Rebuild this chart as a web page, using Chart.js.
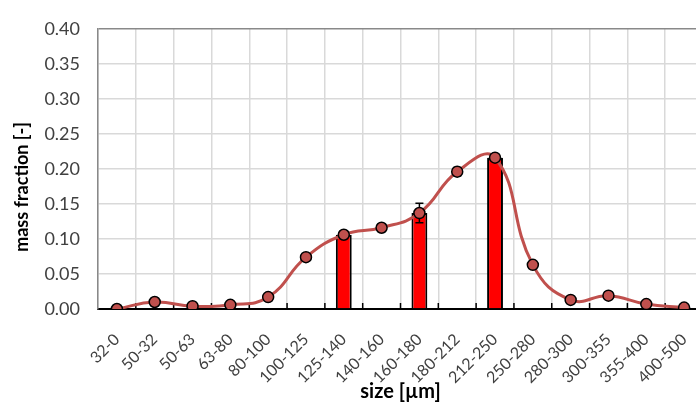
<!DOCTYPE html>
<html>
<head>
<meta charset="utf-8">
<script src="https://cdn.jsdelivr.net/npm/chart.js@4"></script>
<style>
  body { margin: 0; overflow: hidden; background: #fff; }
</style>
</head>
<body>
<canvas id="psdChart" width="710" height="407"></canvas>
<script>
// size classes (µm) and measured mass fractions
const sizeClasses = ['32-0', '50-32', '50-63', '63-80', '80-100', '100-125', '125-140', '140-160',
  '160-180', '180-212', '212-250', '250-280', '280-300', '300-355', '355-400', '400-500'];
const massFraction = [0.000, 0.010, 0.004, 0.006, 0.017, 0.074, 0.106, 0.116,
  0.137, 0.196, 0.216, 0.063, 0.013, 0.019, 0.007, 0.002];
const massError = [0, 0, 0, 0, 0, 0, 0.002, 0,
  0.014, 0.006, 0.003, 0, 0, 0, 0, 0];
// selected fractions shown as bars
const barFraction = [null, null, null, null, null, null, 0.106, null,
  0.137, null, 0.216, null, null, null, null, null];
const yTicks = { min: 0, max: 0.40, step: 0.05 };

const labelColor = '#404040';
const fontFamily = 'Lato, "Open Sans", sans-serif';

// error bars + inside tick marks, drawn after the bars but under the line
const errorBarPlugin = {
    id: 'errorBars',
    afterDatasetDraw(chart, args) {
        if (args.index !== 0) return;
        const ctx = chart.ctx;
        const xs = chart.scales.x;
        const ys = chart.scales.y;
        ctx.save();
        ctx.strokeStyle = '#000';
        ctx.lineWidth = 1.5;
        massError.forEach((err, i) => {
            if (!err) return;
            const x = xs.getPixelForValue(i);
            const top = ys.getPixelForValue(massFraction[i] + err);
            const bot = ys.getPixelForValue(massFraction[i] - err);
            ctx.beginPath();
            ctx.moveTo(x, top); ctx.lineTo(x, bot);
            ctx.moveTo(x - 4, top); ctx.lineTo(x + 4, top);
            ctx.moveTo(x - 4, bot); ctx.lineTo(x + 4, bot);
            ctx.stroke();
        });
        // small tick marks pointing up from the x axis at class boundaries
        const half = (xs.getPixelForValue(1) - xs.getPixelForValue(0)) / 2;
        const base = ys.getPixelForValue(0);
        for (let i = 0; i < sizeClasses.length; i++) {
            const x = xs.getPixelForValue(i) + half;
            ctx.beginPath();
            ctx.moveTo(x, base);
            ctx.lineTo(x, base - 6);
            ctx.stroke();
        }
        ctx.restore();
    }
};

// y axis title, Excel places it a bit below the plot centre
const yTitlePlugin = {
    id: 'yTitle',
    afterDraw(chart) {
        const ctx = chart.ctx;
        ctx.save();
        ctx.translate(22, 187);
        ctx.rotate(-Math.PI / 2);
        ctx.font = 'bold 18px ' + fontFamily;
        ctx.fillStyle = '#000';
        ctx.textAlign = 'center';
        ctx.textBaseline = 'middle';
        ctx.fillText('mass fraction [-]', 0, 0);
        ctx.restore();
    }
};

const ctx = document.getElementById('psdChart').getContext('2d');
new Chart(ctx, {
    data: {
        labels: sizeClasses,
        datasets: [
            {
                type: 'bar',
                data: barFraction,
                backgroundColor: '#FF0000',
                borderColor: '#000000',
                borderWidth: 2,
                borderSkipped: 'bottom',
                barPercentage: 0.42,
                categoryPercentage: 1.0,
                order: 2
            },
            {
                type: 'line',
                data: massFraction,
                borderColor: '#C0504D',
                borderWidth: 3,
                tension: 0.45,
                pointRadius: 5.5,
                pointBackgroundColor: '#C0504D',
                pointBorderColor: '#000000',
                pointBorderWidth: 1.5,
                order: 1
            }
        ]
    },
    options: {
        responsive: false,
        animation: false,
        layout: { padding: { top: 21, right: 5, left: 0, bottom: 2 } },
        plugins: {
            legend: { display: false },
            tooltip: { enabled: false }
        },
        scales: {
            x: {
                offset: true,
                grid: {
                    offset: true,
                    color: '#D9D9D9',
                    lineWidth: 1.5,
                    drawTicks: false
                },
                border: { color: '#000000', width: 2 },
                ticks: {
                    color: labelColor,
                    font: { family: fontFamily, size: 16 },
                    minRotation: 45,
                    maxRotation: 45,
                    padding: 21,
                    autoSkip: false
                },
                title: {
                    display: true,
                    text: 'size [µm]',
                    color: '#000',
                    font: { family: fontFamily, size: 20, weight: 'bold' },
                    padding: { top: 0, bottom: 1 }
                },
                afterFit(scale) {
                    scale.height = 96;
                    scale.paddingLeft = 0;
                    scale.paddingRight = 0;
                }
            },
            y: {
                min: yTicks.min,
                max: yTicks.max,
                grid: {
                    color: c => (c.tick && Math.abs(c.tick.value - yTicks.max) < 1e-9) ? '#898989' : '#D9D9D9',
                    lineWidth: 1.5,
                    drawTicks: false
                },
                border: { color: '#898989', width: 1.5 },
                ticks: {
                    stepSize: yTicks.step,
                    color: labelColor,
                    font: { family: fontFamily, size: 18 },
                    padding: 18,
                    callback: v => Number(v).toFixed(2)
                },
                afterFit(scale) { scale.width = 98; }
            }
        }
    },
    plugins: [errorBarPlugin, yTitlePlugin]
});
</script>
</body>
</html>
